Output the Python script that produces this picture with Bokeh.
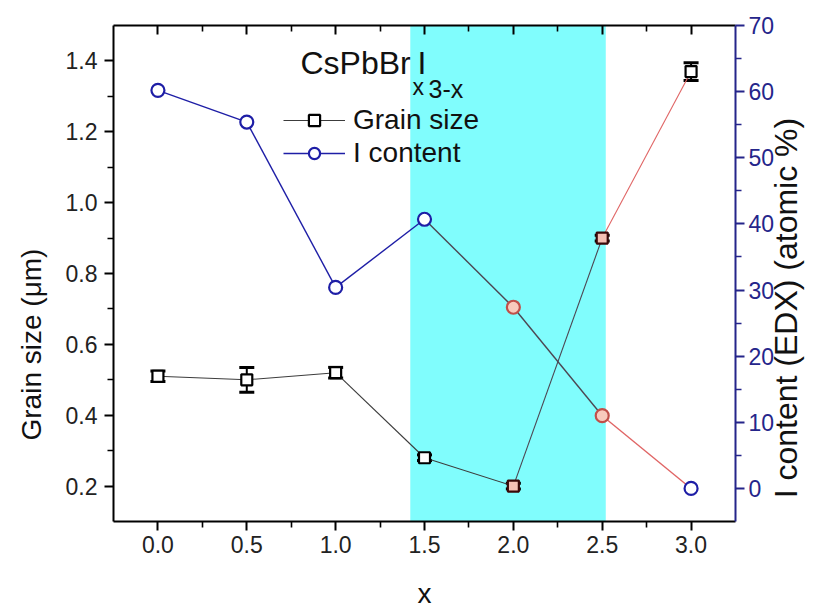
import math
from bokeh.plotting import figure
from bokeh.models import (Range1d, LinearAxis, FixedTicker, Whisker, ColumnDataSource,
                          BoxAnnotation, Label, Legend, LegendItem, TeeHead, Title)
from bokeh.embed import file_html
from bokeh.resources import INLINE

# ---------------- data ----------------
x_vals = [0.0, 0.5, 1.0, 1.5, 2.0, 2.5, 3.0]
grain_size = [0.51, 0.50, 0.52, 0.28, 0.20, 0.90, 1.37]      # um
grain_err = [0.015, 0.035, 0.015, 0.008, 0.008, 0.008, 0.025]
i_content = [60.2, 55.4, 30.4, 40.7, 27.4, 11.0, 0.0]        # atomic %
highlight_x = [1.42, 2.52]

x_ticks = [0.0, 0.5, 1.0, 1.5, 2.0, 2.5, 3.0]
x_tick_labels = ["0.0", "0.5", "1.0", "1.5", "2.0", "2.5", "3.0"]
grain_ticks = [0.2, 0.4, 0.6, 0.8, 1.0, 1.2, 1.4]
grain_tick_labels = ["0.2", "0.4", "0.6", "0.8", "1.0", "1.2", "1.4"]
i_ticks = [0, 10, 20, 30, 40, 50, 60, 70]
i_tick_labels = ["0", "10", "20", "30", "40", "50", "60", "70"]

right_title = "I content (EDX) (atomic %)"
right_title_start = -1.5     # axis value where the rotated right title begins

# ---------------- styles ----------------
FONT = "Liberation Sans"
BLUE = "#1e1ea6"
NAVY = "#25258a"
RED = "#e06565"
DARK = "#4c4652"
CYAN = "#80fdfd"
TXT = "#111111"

grain_seg_colors = ["#3c3c3c", "#3c3c3c", "#3c3c3c", "#3c3c3c", DARK, RED]
i_seg_colors = [BLUE, BLUE, BLUE, DARK, DARK, RED]
sq_line = ["black", "black", "black", "black", "#3a0808", "#3a0808", "black"]
sq_fill = ["white", "white", "white", "white", "#f4c0b4", "#f4c0b4", "white"]
circ_line = [BLUE, BLUE, BLUE, BLUE, "#c0504a", "#c0504a", BLUE]
circ_fill = ["white", "white", "white", "white", "#f8cabd", "#f8cabd", "white"]

p = figure(width=825, height=611,
           x_range=Range1d(-0.25, 3.25), y_range=Range1d(0.1, 1.5),
           output_backend="svg", toolbar_location=None,
           min_border_left=113, min_border_right=88,
           min_border_top=25, min_border_bottom=88)
p.extra_y_ranges = {"i": Range1d(-5, 70)}
p.xgrid.visible = False
p.ygrid.visible = False
p.outline_line_color = None
p.background_fill_color = "white"
p.border_fill_color = "white"

# highlighted band
p.add_layout(BoxAnnotation(left=highlight_x[0], right=highlight_x[1],
                           fill_color=CYAN, fill_alpha=1.0, line_color=None,
                           level="underlay"))

# connecting lines
seg = ColumnDataSource(dict(
    x0=x_vals[:-1], x1=x_vals[1:],
    g0=grain_size[:-1], g1=grain_size[1:],
    i0=i_content[:-1], i1=i_content[1:],
    gc=grain_seg_colors, ic=i_seg_colors))
p.segment("x0", "g0", "x1", "g1", source=seg, line_color="gc", line_width=1.1)
p.segment("x0", "i0", "x1", "i1", source=seg, line_color="ic", line_width=1.4,
          y_range_name="i")

# error bars
src = ColumnDataSource(dict(
    x=x_vals, g=grain_size, i=i_content,
    lo=[g - e for g, e in zip(grain_size, grain_err)],
    hi=[g + e for g, e in zip(grain_size, grain_err)],
    sl=sq_line, sf=sq_fill, cl=circ_line, cf=circ_fill))
p.add_layout(Whisker(source=src, base="x", lower="lo", upper="hi",
                     line_color="black", line_width=2,
                     upper_head=TeeHead(size=15, line_width=3, line_color="black"),
                     lower_head=TeeHead(size=15, line_width=3, line_color="black")))

sq = p.scatter("x", "g", source=src, marker="square", size=11, line_width=2.2,
               line_color="sl", fill_color="sf")
ci = p.scatter("x", "i", source=src, marker="circle", size=13, line_width=2.2,
               line_color="cl", fill_color="cf", y_range_name="i")

# legend proxies (first segment style)
lg_g = p.line([x_vals[0]], [grain_size[0]], line_color="#3c3c3c", line_width=1.1)
lg_i = p.line([x_vals[0]], [i_content[0]], line_color=BLUE, line_width=1.4,
              y_range_name="i")
legend = Legend(items=[LegendItem(label="Grain size", renderers=[lg_g, sq], index=0),
                       LegendItem(label="I content", renderers=[lg_i, ci], index=0)],
                location=(170, 352), orientation="vertical",
                glyph_width=62, glyph_height=28, label_height=28, spacing=1,
                padding=0, margin=0, label_standoff=8,
                label_text_font=FONT, label_text_font_size="28px",
                label_text_color=TXT,
                background_fill_alpha=0, border_line_color=None)
p.add_layout(legend)

# title with subscripts (screen units relative to the frame)
def lab(txt, x, y, size):
    p.add_layout(Label(x=x, y=y, x_units="screen", y_units="screen", text=txt,
                       text_baseline="alphabetic",
                       text_font=FONT, text_font_size=size, text_color=TXT))

lab("CsPbBr", 187, 459, "32px")
lab("I", 304, 459, "32px")
lab("x", 299, 435, "23px")
lab("3-x", 315, 433, "25px")

# ---------------- axes ----------------
def minor_of(ticks):
    return [(a + b) / 2 for a, b in zip(ticks[:-1], ticks[1:])]

def style(ax, color="black"):
    ax.axis_line_color = color
    ax.axis_line_width = 2
    ax.major_tick_line_color = color
    ax.minor_tick_line_color = color
    ax.major_tick_line_width = 2
    ax.minor_tick_line_width = 1.6
    ax.major_tick_out = 9
    ax.major_tick_in = 0
    ax.minor_tick_out = 6
    ax.minor_tick_in = 0
    ax.major_label_text_font = FONT
    ax.major_label_text_font_size = "23px"
    ax.axis_label_text_font = FONT
    ax.axis_label_text_font_size = "28px"
    ax.axis_label_text_font_style = "normal"
    ax.axis_label_text_color = TXT

xa = p.xaxis[0]
style(xa)
xa.ticker = FixedTicker(ticks=x_ticks, minor_ticks=minor_of(x_ticks))
xa.major_label_overrides = dict(zip(x_ticks, x_tick_labels))
xa.major_label_text_color = "#222222"
xa.major_label_standoff = 5
xa.axis_label = "x"
xa.axis_label_standoff = 22

ya = p.yaxis[0]
style(ya)
ya.ticker = FixedTicker(ticks=grain_ticks, minor_ticks=minor_of(grain_ticks))
ya.major_label_overrides = dict(zip(grain_ticks, grain_tick_labels))
ya.major_label_text_color = "#222222"
ya.major_label_standoff = 7

# left axis title, placed lower than centre as in the reference
p.add_layout(Title(text="Grain size (μm)", align="left", offset=81, standoff=28,
                   vertical_align="top",
                   text_font=FONT, text_font_size="28px", text_font_style="normal",
                   text_color=TXT), "left")

top = LinearAxis(ticker=FixedTicker(ticks=x_ticks, minor_ticks=minor_of(x_ticks)))
style(top)
top.major_tick_in = 9
top.major_tick_out = 0
top.minor_tick_in = 6
top.minor_tick_out = 0
top.major_label_text_font_size = "0px"
top.major_label_standoff = 0
p.add_layout(top, "above")

ra = LinearAxis(y_range_name="i",
                ticker=FixedTicker(ticks=i_ticks, minor_ticks=minor_of(i_ticks)))
style(ra, NAVY)
ra.major_label_overrides = dict(zip(i_ticks, i_tick_labels))
ra.major_label_text_color = NAVY
ra.major_label_standoff = 4
p.add_layout(ra, "right")

# right axis title: rotated to read upwards, starting low on the axis
rt = LinearAxis(y_range_name="i",
                ticker=FixedTicker(ticks=[right_title_start], minor_ticks=[]))
rt.major_label_overrides = {right_title_start: right_title}
rt.major_label_orientation = math.pi / 2
rt.axis_line_color = None
rt.major_tick_line_color = None
rt.minor_tick_line_color = None
rt.major_tick_out = 0
rt.major_tick_in = 0
rt.minor_tick_out = 0
rt.major_label_standoff = 9
rt.major_label_text_font = FONT
rt.major_label_text_font_size = "32px"
rt.major_label_text_color = TXT
p.add_layout(rt, "right")

open("out.html", "w").write(file_html(p, INLINE))
